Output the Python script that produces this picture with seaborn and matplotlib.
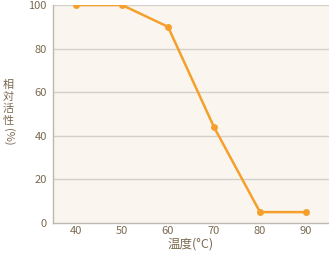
import matplotlib
matplotlib.use("Agg")
import matplotlib.pyplot as plt
import seaborn as sns
import pandas as pd

temps = [40, 50, 60, 70, 80, 90]
activity = [100, 100, 90, 44, 5, 5]
x_ticks = [40, 50, 60, 70, 80, 90]
y_ticks = [0, 20, 40, 60, 80, 100]
ylabel_chars = ["相", "対", "活", "性"]

sns.set_style("white")
plt.rcParams['font.family'] = ['Noto Sans CJK JP', 'DejaVu Sans']

text_color = "#7a6a52"
df = pd.DataFrame({"temp": temps, "act": activity})

fig = plt.figure(figsize=(3.29, 2.58), dpi=100)
ax = fig.add_axes([53/329, 35/258, 1 - 53/329, 218/258])
ax.set_facecolor("#faf5ee")

for y in y_ticks[1:]:
    ax.axhline(y, color="#d4d0cb", lw=1.0, zorder=0)

sns.lineplot(data=df, x="temp", y="act", ax=ax, color="#f5a02c", lw=1.8,
             marker="o", markersize=5, markeredgewidth=0, zorder=3)

ax.set_xlim(35, 95)
ax.set_ylim(0, 100)
ax.set_xticks(x_ticks)
ax.set_yticks(y_ticks)
ax.tick_params(axis="x", direction="in", length=4, color="#bcb8b3", labelsize=8,
               labelcolor=text_color, pad=2)
ax.tick_params(axis="y", length=0, labelsize=8, labelcolor=text_color, pad=4.5)
for s in ["top", "right"]:
    ax.spines[s].set_visible(False)
for s in ["left", "bottom"]:
    ax.spines[s].set_color("#bcb8b3")
    ax.spines[s].set_linewidth(1.0)

ax.set_xlabel("温度(°C)", fontsize=9, color=text_color, labelpad=1)
ax.set_ylabel("")
for i, ch in enumerate(ylabel_chars):
    fig.text(8/329, 1 - (85 + 12*i)/258, ch, ha="center", va="center", fontsize=8,
             color=text_color)
fig.text(8/329, 1 - 137/258, "(%)", ha="center", va="center", fontsize=8,
         color=text_color, rotation=-90)

fig.savefig("out.png", dpi=100)
